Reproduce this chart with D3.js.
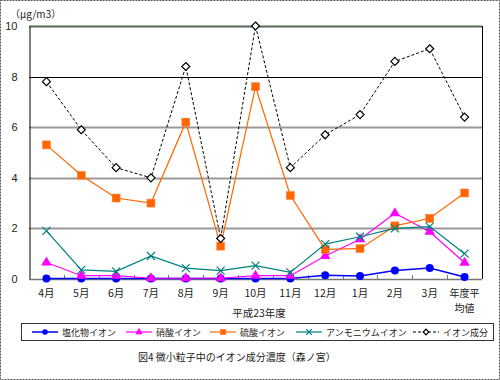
<!DOCTYPE html>
<html><head><meta charset="utf-8">
<script src="https://cdn.jsdelivr.net/npm/d3@7"></script>
<style>body{margin:0;background:#fff}svg{display:block;font-family:"Noto Sans CJK JP","Noto Sans",sans-serif}</style>
</head><body><svg id="c" width="500" height="380"></svg>
<script>
const categories = ["4月","5月","6月","7月","8月","9月","10月","11月","12月","1月","2月","3月","年度平均値"];
const chloride = [0.02,0.02,0.02,0.02,0.02,0.02,0.02,0.02,0.15,0.12,0.34,0.43,0.08];
const nitrate = [0.65,0.13,0.13,0.03,0.03,0.03,0.13,0.13,0.91,1.57,2.6,1.87,0.64];
const sulfate = [5.3,4.1,3.2,3.0,6.2,1.3,7.6,3.3,1.17,1.2,2.1,2.4,3.4];
const ammonium = [1.9,0.36,0.3,0.91,0.43,0.33,0.53,0.26,1.38,1.67,2.0,2.07,1.0];
const ionTotal = [7.8,5.9,4.4,4.0,8.4,1.6,10.0,4.4,5.7,6.5,8.6,9.1,6.4];
const yTicks = [0,2,4,6,8,10];
const seriesNames = ["塩化物イオン","硝酸イオン","硫酸イオン","アンモニウムイオン","イオン成分"];

const svg = d3.select("#c");
const L=29, R=482, T=26, B=279;
const x = d3.scaleBand().domain(categories).range([L,R]);
const y = d3.scaleLinear().domain([0,10]).range([B,T]);

svg.append("rect").attr("x",0.5).attr("y",0.5).attr("width",499).attr("height",379)
  .attr("fill","#fff").attr("stroke","#555").attr("stroke-dasharray","2,1");

// grid
yTicks.filter(d=>d>0).forEach(d=>{
  svg.append("line").attr("x1",L).attr("x2",R).attr("y1",Math.round(y(d))+0.5).attr("y2",Math.round(y(d))+0.5)
    .attr("stroke", d===8 ? "#000" : (d===10 ? "#556b55" : "#999")).attr("stroke-width", d===8?1:1.8);
});
// y axis
const yAxis = d3.axisLeft(y).tickValues(yTicks).tickSize(0).tickPadding(12);
const gy = svg.append("g").attr("transform",`translate(${L+0.5},0)`).call(yAxis);
gy.select(".domain").attr("stroke","#000");
gy.selectAll("text").attr("font-size",11).attr("fill","#222").attr("font-family","Liberation Sans, Arial, sans-serif");
// right border
svg.append("line").attr("x1",R+0.5).attr("x2",R+0.5).attr("y1",T).attr("y2",B).attr("stroke","#000");
// x axis
svg.append("line").attr("x1",L).attr("x2",R).attr("y1",B+0.5).attr("y2",B+0.5).attr("stroke","#777").attr("stroke-width",1.5);
categories.slice(1).forEach(c=>{
  svg.append("line").attr("x1",Math.round(x(c))+0.5).attr("x2",Math.round(x(c))+0.5).attr("y1",B).attr("y2",B-4).attr("stroke","#777");
});
const cx = c => x(c)+x.bandwidth()/2;
categories.forEach(c=>{
  if(c==="年度平均値"){
    svg.append("text").attr("x",cx(c)).attr("y",297).attr("text-anchor","middle").attr("font-size",10).attr("fill","#222").text("年度平");
    svg.append("text").attr("x",cx(c)).attr("y",311.5).attr("text-anchor","middle").attr("font-size",10).attr("fill","#222").text("均値");
  } else {
    svg.append("text").attr("x",cx(c)).attr("y",297).attr("text-anchor","middle").attr("font-size",10.5).attr("fill","#222").text(c);
  }
});
svg.append("text").attr("x",259).attr("y",317).attr("text-anchor","middle").attr("font-size",10.5).attr("fill","#222").text("平成23年度");
svg.append("text").attr("x",10).attr("y",18).attr("font-size",10).attr("fill","#222").text("（μg/m3）");

const series = [
  {name:seriesNames[0], data:chloride, color:"#0000FF", mark:"circle", w:1.5},
  {name:seriesNames[1], data:nitrate, color:"#FF00FF", mark:"triangle", w:1.2},
  {name:seriesNames[2], data:sulfate, color:"#FF6600", mark:"square", w:1.2},
  {name:seriesNames[3], data:ammonium, color:"#008080", mark:"x", w:1.2},
  {name:seriesNames[4], data:ionTotal, color:"#000", mark:"diamond", w:1, dash:"3,2"}
];
function drawMark(g, s, px, py, scale){
  const k = scale||1;
  if(s.mark==="circle") g.append("circle").attr("cx",px).attr("cy",py).attr("r",4*k).attr("fill",s.color);
  else if(s.mark==="triangle") g.append("path").attr("d",d3.symbol(d3.symbolTriangle, 48*k*k)()).attr("transform",`translate(${px},${py})`).attr("fill",s.color);
  else if(s.mark==="square") g.append("rect").attr("x",px-4*k).attr("y",py-4*k).attr("width",8*k).attr("height",8*k).attr("fill",s.color).attr("stroke","#FF8040").attr("stroke-width",0.5);
  else if(s.mark==="x") g.append("path").attr("d",`M${px-4*k},${py-4*k}L${px+4*k},${py+4*k}M${px-4*k},${py+4*k}L${px+4*k},${py-4*k}`).attr("stroke",s.color).attr("stroke-width",1.2);
  else if(s.mark==="diamond") g.append("path").attr("d",`M${px},${py-4*k}L${px+4*k},${py}L${px},${py+4*k}L${px-4*k},${py}Z`).attr("fill","#fff").attr("stroke","#000").attr("stroke-width",1.2);
}
const line = d3.line().x((d,i)=>cx(categories[i])).y(d=>y(d));
series.forEach(s=>{
  const g = svg.append("g");
  g.append("path").attr("d",line(s.data)).attr("fill","none").attr("stroke",s.color).attr("stroke-width",s.w).attr("stroke-dasharray",s.dash||null);
  s.data.forEach((d,i)=>drawMark(g,s,cx(categories[i]),y(d)));
});

// legend
svg.append("rect").attr("x",21.5).attr("y",323.5).attr("width",472).attr("height",17).attr("fill","#fff").attr("stroke","#333");
const lx = [32,126,210,296,413];
series.forEach((s,i)=>{
  const g=svg.append("g");
  const ly=332;
  g.append("line").attr("x1",lx[i]).attr("x2",lx[i]+26).attr("y1",ly).attr("y2",ly).attr("stroke",s.color).attr("stroke-width",s.w).attr("stroke-dasharray",s.dash||null);
  drawMark(g,s,lx[i]+13,ly,0.7);
  g.append("text").attr("x",lx[i]+30).attr("y",ly+3.5).attr("font-size",9).attr("fill","#222").text(s.name);
});
svg.append("text").attr("x",138).attr("y",361).attr("font-size",10).attr("fill","#222").text("図4  微小粒子中のイオン成分濃度（森ノ宮）");
</script></body></html>
